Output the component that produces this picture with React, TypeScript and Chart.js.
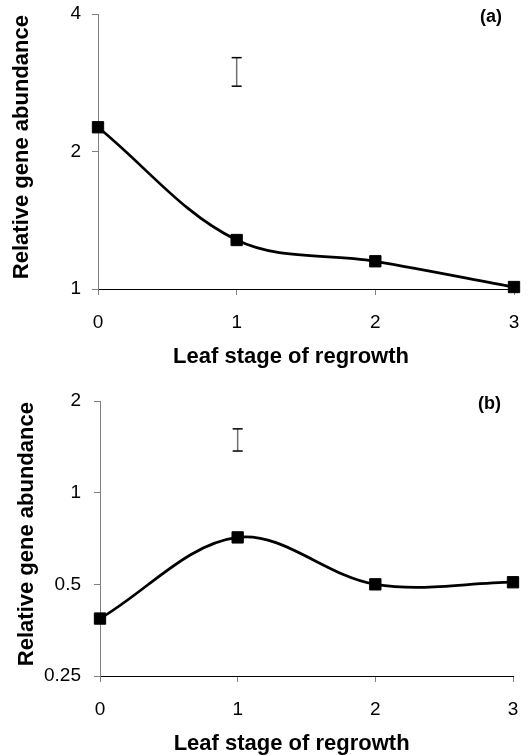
import React, { useEffect, useRef } from "react";
import { Chart, registerables } from "chart.js";

Chart.register(...registerables);

// ---- data ----
const stages = [0, 1, 2, 3];
const abundanceA = [2.26, 1.28, 1.15, 1.01];
const abundanceB = [0.386, 0.713, 0.5, 0.508];
const errorBarStage = 1;
const errorBarA = [2.78, 3.21];
const errorBarB = [1.37, 1.62];
const yTicksA = [1, 2, 4];
const yTicksB = [0.25, 0.5, 1, 2];
const panelLabels = ["(a)", "(b)"];
const xTitle = "Leaf stage of regrowth";
const yTitle = "Relative gene abundance";

const FONT = '"Liberation Sans", Arial, Helvetica, sans-serif';
Chart.defaults.font.family = FONT;

const textPlugin = {
  id: "panelText",
  afterDraw(chart: any, _args: any, opts: any) {
    const { ctx, chartArea: ca } = chart;
    ctx.save();
    ctx.fillStyle = "#000";
    // x title
    ctx.font = `bold ${opts.titleSize}px ${FONT}`;
    ctx.textAlign = "center";
    ctx.textBaseline = "alphabetic";
    ctx.fillText(opts.xTitle, ca.left + ca.width * 0.464, ca.bottom + 74);
    // y title
    ctx.save();
    ctx.translate(opts.yTitleX, ca.top + ca.height * 0.484);
    ctx.rotate(-Math.PI / 2);
    ctx.fillText(opts.yTitle, 0, 0);
    ctx.restore();
    // panel label
    ctx.font = `bold ${opts.labelSize}px ${FONT}`;
    ctx.textAlign = "right";
    ctx.fillText(opts.label, ca.right - 12, ca.top + 8);
    ctx.restore();
  },
};

type PanelCfg = {
  values: number[];
  err: number[];
  yTicks: number[];
  label: string;
  axisLeft: number;
  padRight: number;
  yTitleX: number;
  yTickPad: number;
};

const panels: PanelCfg[] = [
  { values: abundanceA, err: errorBarA, yTicks: yTicksA, label: panelLabels[0], axisLeft: 98, padRight: 16, yTitleX: 28, yTickPad: 11 },
  { values: abundanceB, err: errorBarB, yTicks: yTicksB, label: panelLabels[1], axisLeft: 100, padRight: 17, yTitleX: 33, yTickPad: 13 },
];

const CANVAS_H = 387;
const AREA_TOP = 14;
const AREA_BOTTOM = 289;

function Panel({ cfg, top }: { cfg: PanelCfg; top: number }) {
  const ref = useRef<HTMLCanvasElement>(null);
  useEffect(() => {
    const chart = new Chart(ref.current as HTMLCanvasElement, {
      type: "line",
      data: {
        datasets: [
          {
            data: stages.map((s, i) => ({ x: s, y: cfg.values[i] })),
            borderColor: "#000",
            borderWidth: 2.75,
            tension: 0.35,
            pointStyle: "rect",
            pointRadius: 8,
            pointBackgroundColor: "#000",
            pointBorderColor: "#000",
            pointBorderWidth: 1,
            clip: false,
          } as any,
          {
            data: cfg.err.map((v) => ({ x: errorBarStage, y: v })),
            borderColor: "#707070",
            borderWidth: 1.5,
            tension: 0,
            pointStyle: "line",
            pointRadius: 5,
            pointBorderColor: "#000",
            pointBorderWidth: 1.5,
            clip: false,
          } as any,
        ],
      },
      options: {
        responsive: false,
        animation: false,
        events: [],
        layout: { padding: { top: AREA_TOP, right: cfg.padRight, left: 0, bottom: 0 } },
        elements: { line: { capBezierPoints: false } as any },
        plugins: {
          legend: { display: false },
          tooltip: { enabled: false },
          panelText: {
            xTitle,
            yTitle,
            label: cfg.label,
            titleSize: 22,
            labelSize: 18,
            yTitleX: cfg.yTitleX,
          },
        } as any,
        scales: {
          x: {
            type: "linear",
            min: stages[0],
            max: stages[stages.length - 1],
            afterBuildTicks: (scale: any) => {
              scale.ticks = stages.map((v) => ({ value: v }));
            },
            afterFit: (scale: any) => {
              scale.height = CANVAS_H - AREA_BOTTOM;
              scale.paddingLeft = 0;
              scale.paddingRight = 0;
            },
            ticks: {
              color: "#000",
              font: { size: 19 },
              padding: 16,
              callback: (v: any) => String(v),
            },
            grid: {
              display: true,
              drawOnChartArea: false,
              drawTicks: true,
              tickLength: 6,
              color: "#808080",
              lineWidth: 1,
            },
            border: { display: true, color: "#000", width: 1 },
          },
          y: {
            type: "logarithmic",
            min: cfg.yTicks[0],
            max: cfg.yTicks[cfg.yTicks.length - 1],
            afterBuildTicks: (scale: any) => {
              scale.ticks = cfg.yTicks.map((v) => ({ value: v }));
            },
            afterFit: (scale: any) => {
              scale.width = cfg.axisLeft;
              scale.paddingTop = 0;
              scale.paddingBottom = 0;
            },
            ticks: {
              color: "#000",
              font: { size: 19 },
              padding: cfg.yTickPad,
              callback: (v: any) => String(v),
            },
            grid: {
              display: true,
              drawOnChartArea: false,
              drawTicks: true,
              tickLength: 6,
              color: "#808080",
              lineWidth: 1,
            },
            border: { display: true, color: "#808080", width: 1 },
          },
        },
      } as any,
      plugins: [textPlugin as any],
    });
    return () => chart.destroy();
  }, []);
  return (
    <canvas
      ref={ref}
      width={530}
      height={CANVAS_H}
      style={{ position: "absolute", left: 0, top, width: 530, height: CANVAS_H }}
    />
  );
}

export default function App() {
  return (
    <div
      style={{
        position: "absolute",
        left: 0,
        top: 0,
        width: 530,
        height: 755,
        overflow: "hidden",
        background: "#fff",
      }}
    >
      <Panel cfg={panels[0]} top={0} />
      <Panel cfg={panels[1]} top={387} />
    </div>
  );
}
